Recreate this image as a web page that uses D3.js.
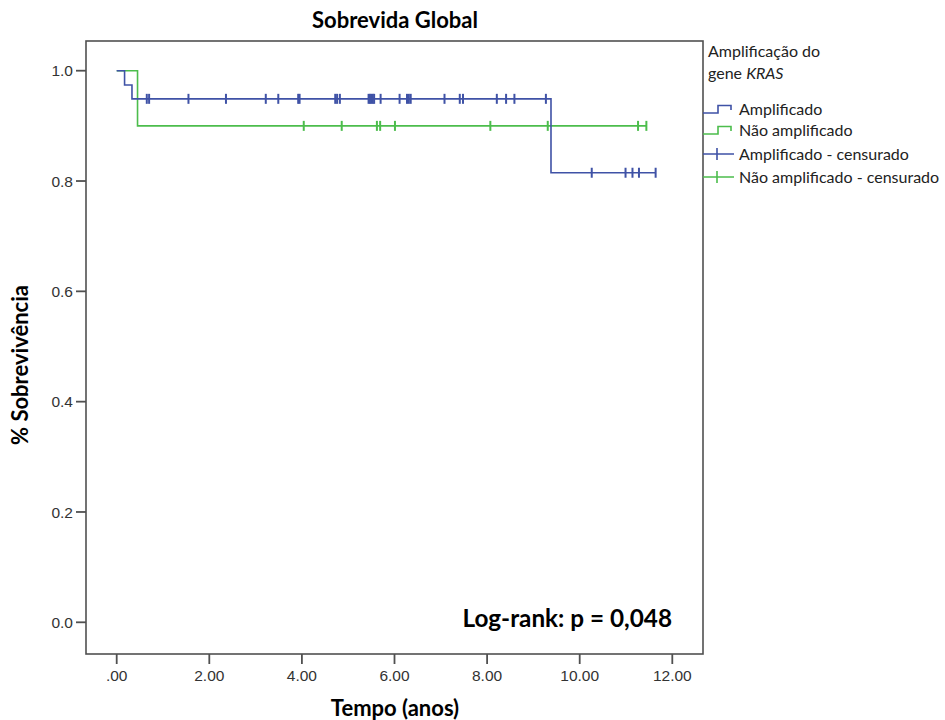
<!DOCTYPE html>
<html>
<head>
<meta charset="utf-8">
<script src="https://cdn.jsdelivr.net/npm/d3@7"></script>
<style>
  body { margin: 0; background: #fff; }
</style>
</head>
<body>
<div id="container"></div>
<script>
// data
const groups = ["Amplificado", "Não amplificado"];
const ampEventTimes = [0.17, 0.33, 9.38];
const ampSurvival = [0.974, 0.949, 0.815];
const ampEnd = 11.64;
const ampCensored = [0.65, 0.70, 1.55, 2.36, 3.22, 3.49, 3.92, 3.95, 4.72, 4.76, 4.82,
  5.44, 5.47, 5.50, 5.53, 5.56, 5.70, 6.11, 6.27, 6.31, 6.35, 7.08, 7.41, 7.48,
  8.21, 8.41, 8.59, 9.27, 10.26, 10.99, 11.14, 11.28, 11.64];
const naoEventTimes = [0.45];
const naoSurvival = [0.90];
const naoEnd = 11.44;
const naoCensored = [4.04, 4.86, 5.62, 5.69, 6.01, 8.07, 9.31, 11.26, 11.44];
const xTicks = [0, 2, 4, 6, 8, 10, 12];
const yTicks = [0, 0.2, 0.4, 0.6, 0.8, 1.0];
const legendLabels = ["Amplificado", "Não amplificado", "Amplificado - censurado", "Não amplificado - censurado"];

// svg size
const width = 945;
const height = 720;

// plot frame
const frameLeft = 86;
const frameRight = 703;
const frameTop = 41;
const frameBottom = 654;

const colors = ["#3f52a6", "#4cbd4c"];
const frameColor = "#505050";
const fontFamily = "Lato, 'Open Sans', sans-serif";
const tickFont = "'Liberation Sans', Arial, sans-serif";
const titleSize = 22;
const legendSize = 16;

const svg = d3.select("#container").append("svg")
    .attr("width", width)
    .attr("height", height)
    .attr("viewBox", [0, 0, width, height]);

const x = d3.scaleLinear().domain([0, 12]).range([116.7, 672.3]);
const y = d3.scaleLinear().domain([0, 1]).range([622.3, 70.7]);

// frame
svg.append("rect")
    .attr("x", frameLeft)
    .attr("y", frameTop)
    .attr("width", frameRight - frameLeft)
    .attr("height", frameBottom - frameTop)
    .attr("fill", "none")
    .attr("stroke", frameColor)
    .attr("stroke-width", 1.6);

// y axis ticks
const yAxis = svg.append("g").attr("transform", `translate(${frameLeft},0)`);
yAxis.selectAll("line")
    .data(yTicks)
    .join("line")
    .attr("x1", -10).attr("x2", 0)
    .attr("y1", d => y(d)).attr("y2", d => y(d))
    .attr("stroke", frameColor)
    .attr("stroke-width", 1.8);
yAxis.selectAll("text")
    .data(yTicks)
    .join("text")
    .attr("x", -13)
    .attr("y", d => y(d))
    .attr("dy", "0.36em")
    .attr("text-anchor", "end")
    .attr("font-family", tickFont)
    .attr("font-size", 15.5)
    .attr("fill", "#333")
    .text(d3.format(".1f"));

// x axis ticks
const xAxis = svg.append("g").attr("transform", `translate(0,${frameBottom})`);
xAxis.selectAll("line")
    .data(xTicks)
    .join("line")
    .attr("x1", d => x(d)).attr("x2", d => x(d))
    .attr("y1", 0).attr("y2", 10)
    .attr("stroke", frameColor)
    .attr("stroke-width", 1.8);
xAxis.selectAll("text")
    .data(xTicks)
    .join("text")
    .attr("x", d => x(d))
    .attr("y", 21)
    .attr("dy", "0.36em")
    .attr("text-anchor", "middle")
    .attr("font-family", tickFont)
    .attr("font-size", 15.5)
    .attr("fill", "#333")
    .text(d => d === 0 ? ".00" : d3.format(".2f")(d));

// survival curves
function stepPoints(times, surv, end) {
    const pts = [[0, 1]];
    times.forEach((t, i) => pts.push([t, surv[i]]));
    pts.push([end, surv[surv.length - 1]]);
    return pts;
}
function survAt(times, surv, t) {
    let s = 1;
    times.forEach((e, i) => { if (e <= t) s = surv[i]; });
    return s;
}

const series = [
    {name: groups[0], times: ampEventTimes, surv: ampSurvival, end: ampEnd, cens: ampCensored, color: colors[0]},
    {name: groups[1], times: naoEventTimes, surv: naoSurvival, end: naoEnd, cens: naoCensored, color: colors[1]}
];

const line = d3.line()
    .x(d => x(d[0]))
    .y(d => y(d[1]))
    .curve(d3.curveStepAfter);

const curves = svg.append("g");
// draw green first so blue sits on top
series.slice().reverse().forEach(s => {
    curves.append("path")
        .datum(stepPoints(s.times, s.surv, s.end))
        .attr("fill", "none")
        .attr("stroke", s.color)
        .attr("stroke-width", 1.6)
        .attr("d", line);
    curves.selectAll(null)
        .data(s.cens)
        .join("line")
        .attr("x1", d => x(d)).attr("x2", d => x(d))
        .attr("y1", d => y(survAt(s.times, s.surv, d)) - 5)
        .attr("y2", d => y(survAt(s.times, s.surv, d)) + 5)
        .attr("stroke", s.color)
        .attr("stroke-width", 2);
});

// title
svg.append("text")
    .attr("x", 395)
    .attr("y", 28)
    .attr("text-anchor", "middle")
    .attr("font-family", fontFamily)
    .attr("font-weight", "bold")
    .attr("font-size", titleSize)
    .attr("fill", "#000")
    .text("Sobrevida Global");

// axis titles
svg.append("text")
    .attr("x", 395)
    .attr("y", 716)
    .attr("text-anchor", "middle")
    .attr("font-family", fontFamily)
    .attr("font-weight", "bold")
    .attr("font-size", titleSize)
    .attr("fill", "#000")
    .text("Tempo (anos)");

svg.append("text")
    .attr("transform", "translate(28,365) rotate(-90)")
    .attr("text-anchor", "middle")
    .attr("font-family", fontFamily)
    .attr("font-weight", "bold")
    .attr("font-size", titleSize)
    .attr("fill", "#000")
    .text("% Sobrevivência");

// log-rank annotation
svg.append("text")
    .attr("x", 672)
    .attr("y", 627)
    .attr("text-anchor", "end")
    .attr("font-family", fontFamily)
    .attr("font-weight", "bold")
    .attr("font-size", 24.3)
    .attr("fill", "#000")
    .text("Log-rank: p = 0,048");

// legend
const legend = svg.append("g");
legend.append("text")
    .attr("x", 708).attr("y", 57)
    .attr("font-family", fontFamily)
    .attr("font-size", legendSize)
    .attr("fill", "#222")
    .text("Amplificação do");
const l2 = legend.append("text")
    .attr("x", 708).attr("y", 79)
    .attr("font-family", fontFamily)
    .attr("font-size", legendSize)
    .attr("fill", "#222");
l2.append("tspan").text("gene ");
l2.append("tspan").attr("font-style", "italic").text("KRAS");

const legendY = [109, 130, 154, 177];
const symLeft = 703, symRight = 734;
legendLabels.forEach((label, i) => {
    const c = colors[i % 2];
    const yy = legendY[i];
    if (i < 2) {
        legend.append("path")
            .attr("d", `M${symLeft},${yy + 4}H${symLeft + 15}V${yy - 3.5}H${symRight - 3}V${yy + 1}`)
            .attr("fill", "none")
            .attr("stroke", c)
            .attr("stroke-width", 1.6);
    } else {
        legend.append("path")
            .attr("d", `M${symLeft},${yy}H${symRight}M${symLeft + 14},${yy - 6}V${yy + 6}`)
            .attr("fill", "none")
            .attr("stroke", c)
            .attr("stroke-width", 1.6);
    }
    legend.append("text")
        .attr("x", 739).attr("y", yy)
        .attr("dy", "0.35em")
        .attr("font-family", fontFamily)
        .attr("font-size", legendSize)
        .attr("fill", "#222")
        .text(label);
});
</script>
</body>
</html>
